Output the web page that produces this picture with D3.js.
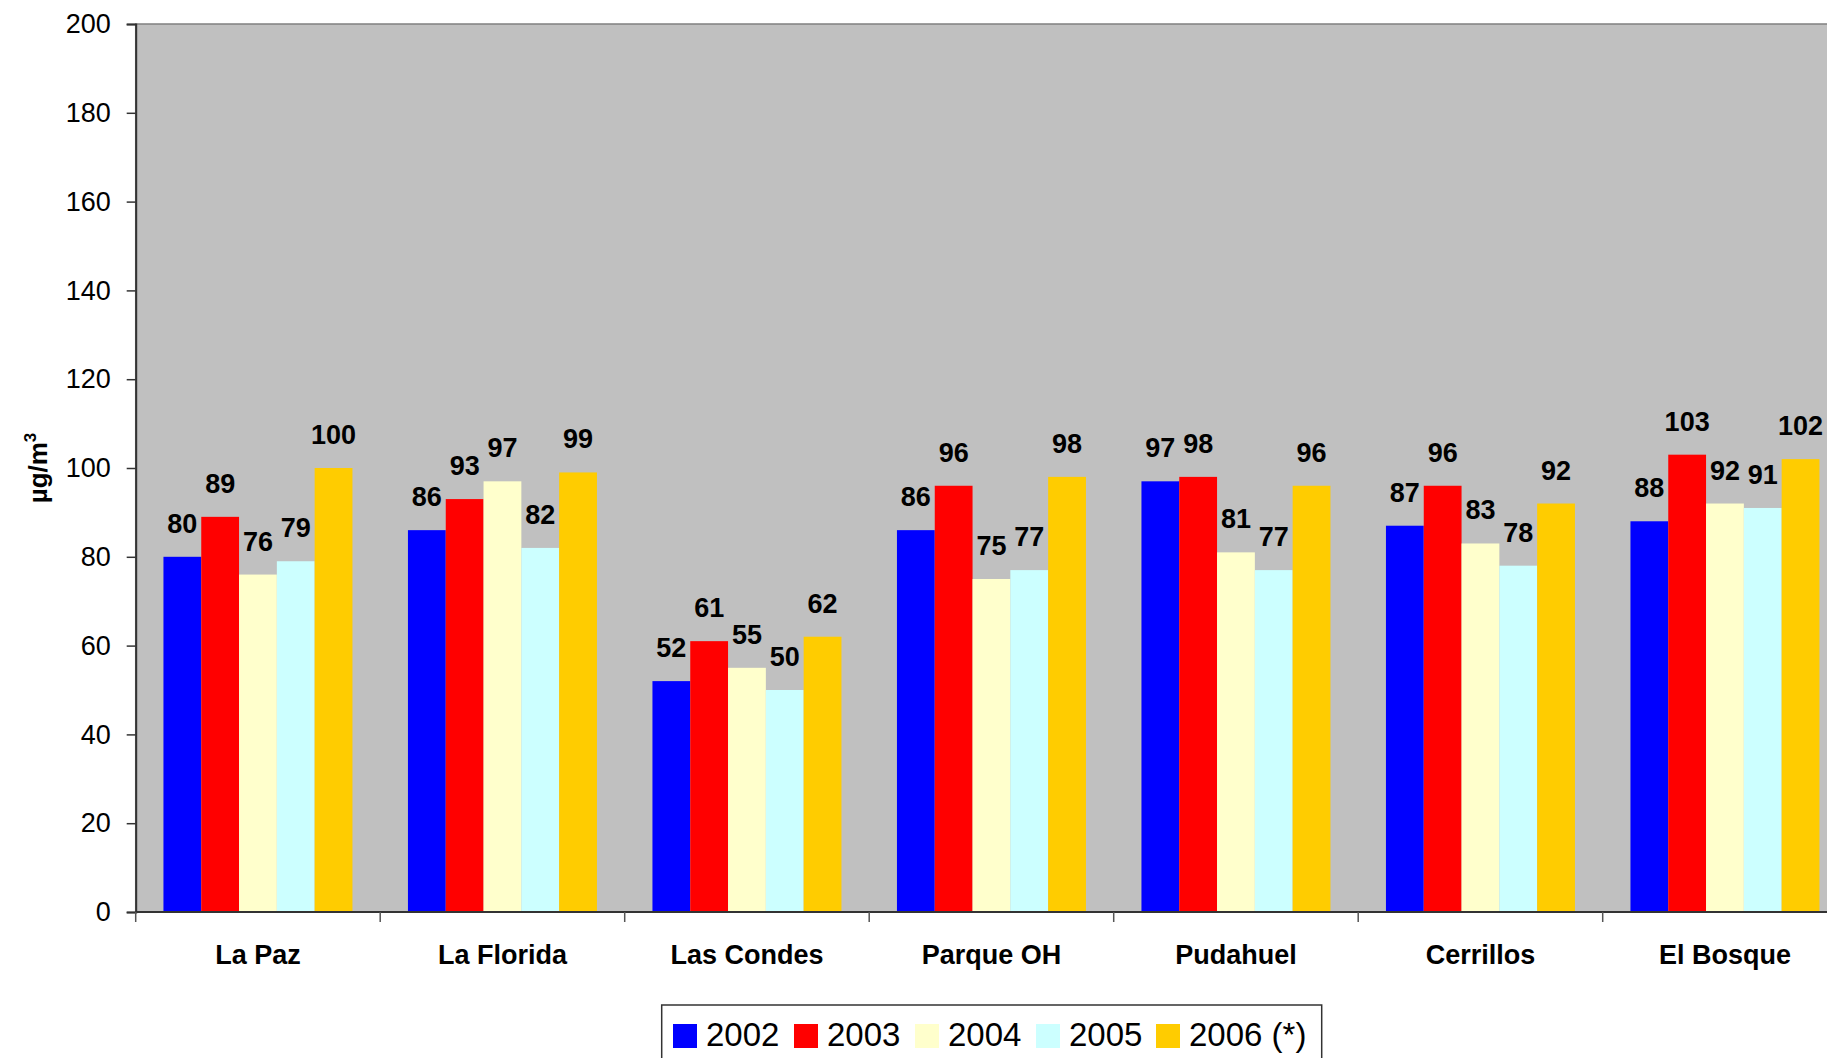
<!DOCTYPE html>
<html>
<head>
<meta charset="utf-8">
<script src="https://cdn.jsdelivr.net/npm/d3@7"></script>
<style>
  body { margin: 0; background: #ffffff; }
  svg { display: block; font-family: Arial, 'Liberation Sans', sans-serif; }
</style>
</head>
<body>
<div class="graph-area"></div>
<script>
// stations and years
var categories = ['La Paz', 'La Florida', 'Las Condes', 'Parque OH', 'Pudahuel', 'Cerrillos', 'El Bosque']
var years = ['2002', '2003', '2004', '2005', '2006 (*)']
var yearColors = ['#0000ff', '#ff0000', '#ffffcc', '#ccffff', '#ffcc00']

// one array per year, in station order
var values2002 = [80, 86, 52, 86, 97, 87, 88]
var values2003 = [89, 93, 61, 96, 98, 96, 103]
var values2004 = [76, 97, 55, 75, 81, 83, 92]
var values2005 = [79, 82, 50, 77, 77, 78, 91]
var values2006 = [100, 99, 62, 98, 96, 92, 102]
var series = [values2002, values2003, values2004, values2005, values2006]

var yTicks = [0, 20, 40, 60, 80, 100, 120, 140, 160, 180, 200]

var width = 1827
var height = 1058
// plot area runs past the right edge of the picture, like the original
var plotLeft = 135.7
var plotRight = plotLeft + 7 * 244.5
var plotTop = 24
var plotBottom = 912

var svg = d3.select('.graph-area').append('svg')
  .attr('width', width)
  .attr('height', height)

var x0 = d3.scaleBand()
  .domain(categories)
  .range([plotLeft, plotRight])
  .padding(0)

var gap = x0.bandwidth() - 5 * 37.8
var x1 = d3.scaleBand()
  .domain(d3.range(years.length))
  .range([gap / 2, x0.bandwidth() - gap / 2])
  .padding(0)

var y = d3.scaleLinear()
  .domain([0, 200])
  .range([plotBottom, plotTop])

// grey plot background
svg.append('rect')
  .attr('x', plotLeft)
  .attr('y', plotTop)
  .attr('width', plotRight - plotLeft)
  .attr('height', plotBottom - plotTop)
  .style('fill', '#c0c0c0')
  .style('stroke', '#808080')
  .style('stroke-width', 1.5)

// bars
series.forEach(function (vals, si) {
  svg.append('g')
    .selectAll('rect')
    .data(vals)
    .enter()
    .append('rect')
    .attr('x', (d, i) => x0(categories[i]) + x1(si))
    .attr('y', d => y(d))
    .attr('width', x1.bandwidth())
    .attr('height', d => y(0) - y(d))
    .style('fill', yearColors[si])
})

// value labels above bars
series.forEach(function (vals, si) {
  svg.append('g')
    .selectAll('text')
    .data(vals)
    .enter()
    .append('text')
    .attr('x', (d, i) => x0(categories[i]) + x1(si) + x1.bandwidth() / 2)
    .attr('y', d => y(d) - 24)
    .attr('text-anchor', 'middle')
    .attr('font-size', '27px')
    .attr('font-weight', 'bold')
    .style('fill', '#000000')
    .text(d => d)
})

// y axis
var yAxis = svg.append('g')
  .attr('transform', `translate(${plotLeft},0)`)
  .call(d3.axisLeft(y).tickValues(yTicks).tickSize(9).tickPadding(16))
yAxis.select('.domain').attr('stroke', '#333333').attr('stroke-width', 2)
yAxis.selectAll('.tick line').attr('stroke', '#333333').attr('stroke-width', 1.5)
yAxis.selectAll('.tick text')
  .attr('font-size', '27px')
  .attr('font-family', 'Arial, Liberation Sans, sans-serif')
  .style('fill', '#000000')

// x axis line and category separators
svg.append('line')
  .attr('x1', plotLeft)
  .attr('x2', plotRight)
  .attr('y1', plotBottom)
  .attr('y2', plotBottom)
  .style('stroke', '#333333')
  .style('stroke-width', 2)

var sepPos = categories.map(c => x0(c)).concat([plotRight])
svg.append('g')
  .selectAll('line')
  .data(sepPos)
  .enter()
  .append('line')
  .attr('x1', d => d)
  .attr('x2', d => d)
  .attr('y1', plotBottom)
  .attr('y2', plotBottom + 10)
  .style('stroke', '#555555')
  .style('stroke-width', 1.5)

svg.append('g')
  .selectAll('text')
  .data(categories)
  .enter()
  .append('text')
  .attr('x', d => x0(d) + x0.bandwidth() / 2)
  .attr('y', 964)
  .attr('text-anchor', 'middle')
  .attr('font-size', '27px')
  .attr('font-weight', 'bold')
  .style('fill', '#000000')
  .text(d => d)

// y axis title
var yTitle = svg.append('text')
  .attr('transform', `translate(47,${(plotTop + plotBottom) / 2}) rotate(-90)`)
  .attr('text-anchor', 'middle')
  .attr('font-size', '26px')
  .attr('font-weight', 'bold')
  .style('fill', '#000000')
yTitle.append('tspan').text('\u00b5g/m')
yTitle.append('tspan')
  .attr('font-size', '17px')
  .attr('dy', -11)
  .text('3')

// legend
var legend = svg.append('g')
legend.append('rect')
  .attr('x', 661.7)
  .attr('y', 1005)
  .attr('width', 660)
  .attr('height', 70)
  .style('fill', '#ffffff')
  .style('stroke', '#333333')
  .style('stroke-width', 1.5)

var legendX = [673, 794, 915, 1036, 1156]
years.forEach(function (yr, i) {
  legend.append('rect')
    .attr('x', legendX[i])
    .attr('y', 1024)
    .attr('width', 24)
    .attr('height', 24)
    .style('fill', yearColors[i])
  legend.append('text')
    .attr('x', legendX[i] + 33)
    .attr('y', 1046)
    .attr('font-size', '33px')
    .style('fill', '#000000')
    .text(yr)
})
</script>
</body>
</html>
